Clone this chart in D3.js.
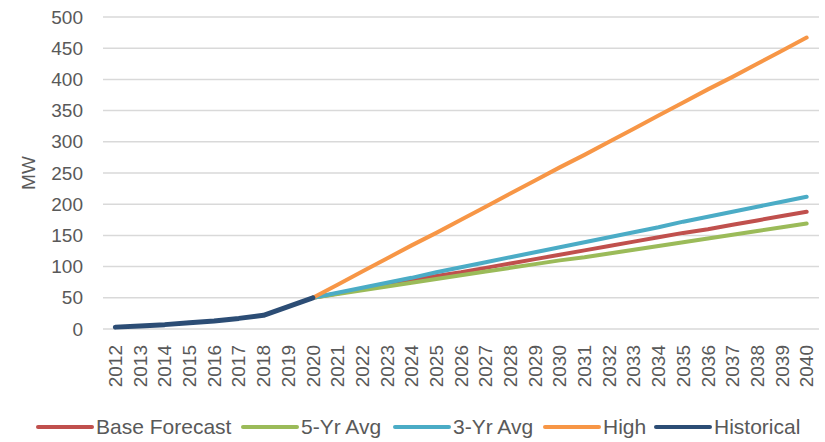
<!DOCTYPE html>
<html>
<head>
<meta charset="utf-8">
<script src="https://cdn.jsdelivr.net/npm/d3@7"></script>
<style>
  html, body { margin: 0; padding: 0; background: #fff; }
  svg text { font-family: "Liberation Sans", Arial, sans-serif; fill: #595959; }
</style>
</head>
<body>
<svg id="chart" width="825" height="442"></svg>
<script>
// Years on the category axis
const years = ["2012","2013","2014","2015","2016","2017","2018","2019","2020",
  "2021","2022","2023","2024","2025","2026","2027","2028","2029","2030",
  "2031","2032","2033","2034","2035","2036","2037","2038","2039","2040"];

// Historical installed capacity (MW), 2012-2020
const historical = [3, 5, 7, 10, 13, 17, 22, 36, 50];

// Forecast scenarios (MW), 2020-2040
const forecastYears = years.slice(8);
const baseForecast = [50, 57, 64, 71, 78, 85, 91, 98, 105, 112, 119, 126, 133, 140, 147, 154, 160, 167, 174, 181, 188];
const fiveYrAvg    = [50, 56, 62, 68, 74, 80, 86, 92, 98, 104, 110, 115, 121, 127, 133, 139, 145, 151, 157, 163, 169];
const threeYrAvg   = [50, 58, 66, 74, 82, 91, 99, 107, 115, 123, 131, 139, 147, 155, 163, 172, 180, 188, 196, 204, 212];
const high         = [50, 71, 92, 113, 134, 154, 175, 196, 217, 238, 259, 279, 300, 321, 342, 363, 384, 404, 425, 446, 467];

// Value axis ticks
const yTicks = [0, 50, 100, 150, 200, 250, 300, 350, 400, 450, 500];

const series = [
  { name: "Base Forecast", x: forecastYears, y: baseForecast, color: "#C0504D", width: 4 },
  { name: "5-Yr Avg",      x: forecastYears, y: fiveYrAvg,    color: "#9BBB59", width: 4 },
  { name: "3-Yr Avg",      x: forecastYears, y: threeYrAvg,   color: "#4BACC6", width: 4 },
  { name: "High",          x: forecastYears, y: high,         color: "#F79646", width: 4 },
  { name: "Historical",    x: years.slice(0, 9), y: historical, color: "#2C4D75", width: 5 }
];

const svg = d3.select("#chart");
const plot = { left: 103, right: 819, top: 17, bottom: 329 };

const x = d3.scaleBand().domain(years).range([plot.left, plot.right]);
const y = d3.scaleLinear().domain([0, 500]).range([plot.bottom, plot.top]);
const cx = d => x(d) + x.bandwidth() / 2;

// Horizontal gridlines
svg.append("g")
  .selectAll("line")
  .data(yTicks)
  .join("line")
  .attr("x1", plot.left).attr("x2", plot.right)
  .attr("y1", d => y(d)).attr("y2", d => y(d))
  .attr("stroke", "#D9D9D9").attr("stroke-width", 1.5);

// Value axis labels
const yAxis = svg.append("g")
  .attr("transform", `translate(${plot.left},0)`)
  .call(d3.axisLeft(y).tickValues(yTicks).tickSize(0).tickPadding(20));
yAxis.select(".domain").remove();
yAxis.selectAll("text")
  .style("font-size", "19px")
  .style("font-family", "'Liberation Sans', Arial, sans-serif")
  .attr("fill", "#595959");

// Year labels, rotated
const xAxis = svg.append("g")
  .attr("transform", `translate(0,${plot.bottom})`)
  .call(d3.axisBottom(x).tickSize(0).tickPadding(0));
xAxis.select(".domain").remove();
xAxis.selectAll("text")
  .attr("transform", "rotate(-90)")
  .attr("text-anchor", "end")
  .attr("x", -16)
  .attr("y", 0)
  .attr("dy", "0.35em")
  .style("font-size", "19px")
  .style("font-family", "'Liberation Sans', Arial, sans-serif")
  .attr("fill", "#595959");

// Axis title
svg.append("text")
  .attr("transform", `translate(35,173) rotate(-90)`)
  .attr("text-anchor", "middle")
  .style("font-size", "19px")
  .text("MW");

// Series lines
const line = d3.line()
  .x(d => cx(d[0]))
  .y(d => y(d[1]));

svg.append("g")
  .selectAll("path")
  .data(series)
  .join("path")
  .attr("d", s => line(s.x.map((yr, i) => [yr, s.y[i]])))
  .attr("fill", "none")
  .attr("stroke", s => s.color)
  .attr("stroke-width", s => s.width)
  .attr("stroke-linecap", "round")
  .attr("stroke-linejoin", "round");

// Legend
const legendX = [38, 243, 395, 545, 656];
const legend = svg.append("g")
  .selectAll("g")
  .data(series)
  .join("g")
  .attr("transform", (s, i) => `translate(${legendX[i]},427)`);
legend.append("line")
  .attr("x1", 0).attr("x2", 54)
  .attr("stroke", s => s.color)
  .attr("stroke-width", 4)
  .attr("stroke-linecap", "round");
legend.append("text")
  .attr("x", 58)
  .attr("dy", "0.35em")
  .style("font-size", "21px")
  .text(s => s.name);
</script>
</body>
</html>
